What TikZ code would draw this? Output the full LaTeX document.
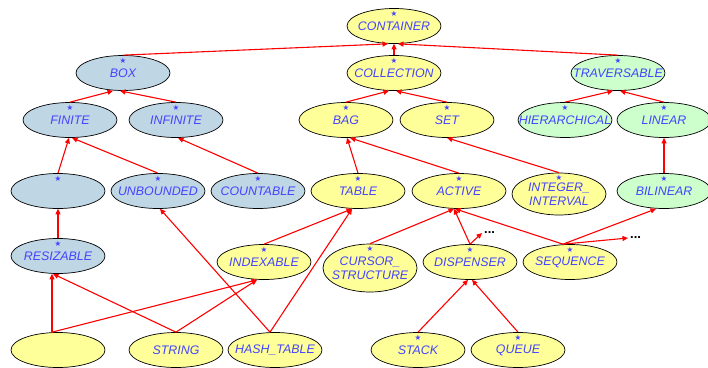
\documentclass[tikz,border=0pt]{standalone}
\usepackage{fontspec}
\setmainfont{Liberation Sans}
\newfontfamily\symfont{DejaVu Sans}
\usetikzlibrary{shapes.geometric,arrows.meta}

\definecolor{boxblue}{RGB}{191,214,229}
\definecolor{colyellow}{RGB}{255,255,153}
\definecolor{travgreen}{RGB}{204,255,204}
\definecolor{namecol}{RGB}{68,68,255}

\begin{document}
\begin{tikzpicture}[x=1pt, y=1pt, node distance=100pt]
  % Define styles
  \tikzstyle{cls}=[ellipse, draw=black, line width=0.7pt, minimum width=94pt, minimum height=35pt, inner xsep=-20pt, inner ysep=0pt, align=center, text=namecol, font=\fontsize{12.4}{14}\selectfont\itshape]
  \tikzstyle{blue}=[cls, fill=boxblue]
  \tikzstyle{yellow}=[cls, fill=colyellow]
  \tikzstyle{green}=[cls, fill=travgreen]
  \tikzstyle{deferred}=[label={[anchor=center, yshift=-5.5pt, inner sep=0pt, text=namecol, font=\symfont\fontsize{7.5}{7.5}\selectfont]above:★}]
  \tikzstyle{inherit}=[-{Triangle[length=5.5pt, width=5pt]}, red, line width=1.1pt]
  \tikzstyle{more}=[anchor=west, inner sep=2pt, font=\fontsize{13}{13}\selectfont\bfseries]

  \useasboundingbox (0,0) rectangle (708,-367);

  % Top levels
  \node[yellow, deferred] (container) at (394,-26) {CONTAINER};
  \node[blue, deferred] (box) at (123,-73) {BOX};
  \node[yellow, deferred] (collection) at (394,-73) {COLLECTION};
  \node[green, deferred] (traversable) at (618,-73) {TRAVERSABLE};

  \node[blue, deferred] (finite) at (70,-120) {FINITE};
  \node[blue, deferred] (infinite) at (176,-120) {INFINITE};
  \node[yellow, deferred] (bag) at (346,-120) {BAG};
  \node[yellow, deferred] (set) at (447,-120) {SET};
  \node[green, deferred] (hierarchical) at (565,-120) {HIERARCHICAL};
  \node[green, deferred] (linear) at (664,-120) {LINEAR};

  % Middle row
  \node[blue, deferred] (cell) at (58,-191) {};
  \node[blue, deferred, right of=cell] (unbounded) {UNBOUNDED};
  \node[blue, deferred, right of=unbounded] (countable) {COUNTABLE};
  \node[yellow, deferred, right of=countable] (table) {TABLE};
  \node[yellow, deferred, right of=table, xshift=1pt] (active) {ACTIVE};
  \node[yellow, deferred, minimum height=42pt] (interval) at (559,-194) {INTEGER\_\\INTERVAL};
  \node[green, deferred] (bilinear) at (664,-191) {BILINEAR};

  \node[blue, deferred] (resizable) at (58,-256) {RESIZABLE};
  \node[yellow, deferred] (indexable) at (264,-262) {INDEXABLE};
  \node[yellow, deferred, minimum height=48pt] (cursor) at (370,-268) {CURSOR\_\\STRUCTURE};
  \node[yellow, deferred] (dispenser) at (470,-262) {DISPENSER};
  \node[yellow, deferred, right of=dispenser] (sequence) {SEQUENCE};
  \coordinate (dispmore) at (482,-233);
  \coordinate (seqmore) at (628,-238);
  \node[more] (dispdots) at (dispmore) {...};
  \node[more] (seqdots) at (seqmore) {...};

  % Leaves
  \node[yellow] (base) at (58,-350) {};
  \node[yellow] (string) at (176,-350) {STRING};
  \node[yellow] (hashtable) at (275,-350) {HASH\_TABLE};
  \node[yellow, deferred] (stack) at (418,-350) {STACK};
  \node[yellow, deferred, right of=stack] (queue) {QUEUE};

  % Inheritance
  \draw[inherit] (box.north) -- ([xshift=-6pt]container.south);
  \draw[inherit] (collection.north) -- (container.south);
  \draw[inherit] (traversable.north) -- ([xshift=4pt]container.south);
  \draw[inherit] (finite.north) -- ([xshift=-10pt]box.south);
  \draw[inherit] (infinite.north) -- ([xshift=-3pt]box.south);
  \draw[inherit] (bag.north) -- ([xshift=-5pt]collection.south);
  \draw[inherit] (set.north) -- ([xshift=2pt]collection.south);
  \draw[inherit] (hierarchical.north) -- ([xshift=-5pt]traversable.south);
  \draw[inherit] (linear.north) -- ([xshift=2pt]traversable.south);
  \draw[inherit] (cell.north) -- ([xshift=-1pt]finite.south);
  \draw[inherit] (unbounded.north) -- ([xshift=2pt]finite.south);
  \draw[inherit] (countable.north) -- ([xshift=2pt]infinite.south);
  \draw[inherit] (table.north) -- ([xshift=1pt]bag.south);
  \draw[inherit] (active.north) -- ([xshift=4pt]bag.south);
  \draw[inherit] (interval.north) -- (set.south);
  \draw[inherit] (bilinear.north) -- (linear.south);
  \draw[inherit] (resizable.north) -- (cell.south);
  \draw[inherit] (indexable.north) -- ([xshift=-6pt]table.south);
  \draw[inherit] (cursor.north) -- ([xshift=-5pt]active.south);
  \draw[inherit] (dispenser.north) -- ([xshift=-5pt]active.south);
  \draw[inherit] (dispenser.north) -- (dispmore);
  \draw[inherit] ([xshift=-7pt]sequence.north) -- ([xshift=-4pt]active.south);
  \draw[inherit] ([xshift=-7pt]sequence.north) -- ([xshift=-8pt]bilinear.south);
  \draw[inherit] ([xshift=-7pt]sequence.north) -- (seqmore);
  \draw[inherit] ([xshift=-6pt]base.north) -- ([xshift=-6pt]resizable.south);
  \draw[inherit] ([xshift=-6pt]base.north) -- ([xshift=-7pt]indexable.south);
  \draw[inherit] (string.north) -- ([xshift=-5pt]resizable.south);
  \draw[inherit] (string.north) -- ([xshift=-7pt]indexable.south);
  \draw[inherit] ([xshift=-5pt]hashtable.north) -- ([xshift=2pt]unbounded.south);
  \draw[inherit] ([xshift=-5pt]hashtable.north) -- ([xshift=-6pt]table.south);
  \draw[inherit] (stack.north) -- ([xshift=-2pt]dispenser.south);
  \draw[inherit] (queue.north) -- ([xshift=2pt]dispenser.south);
\end{tikzpicture}
\end{document}
